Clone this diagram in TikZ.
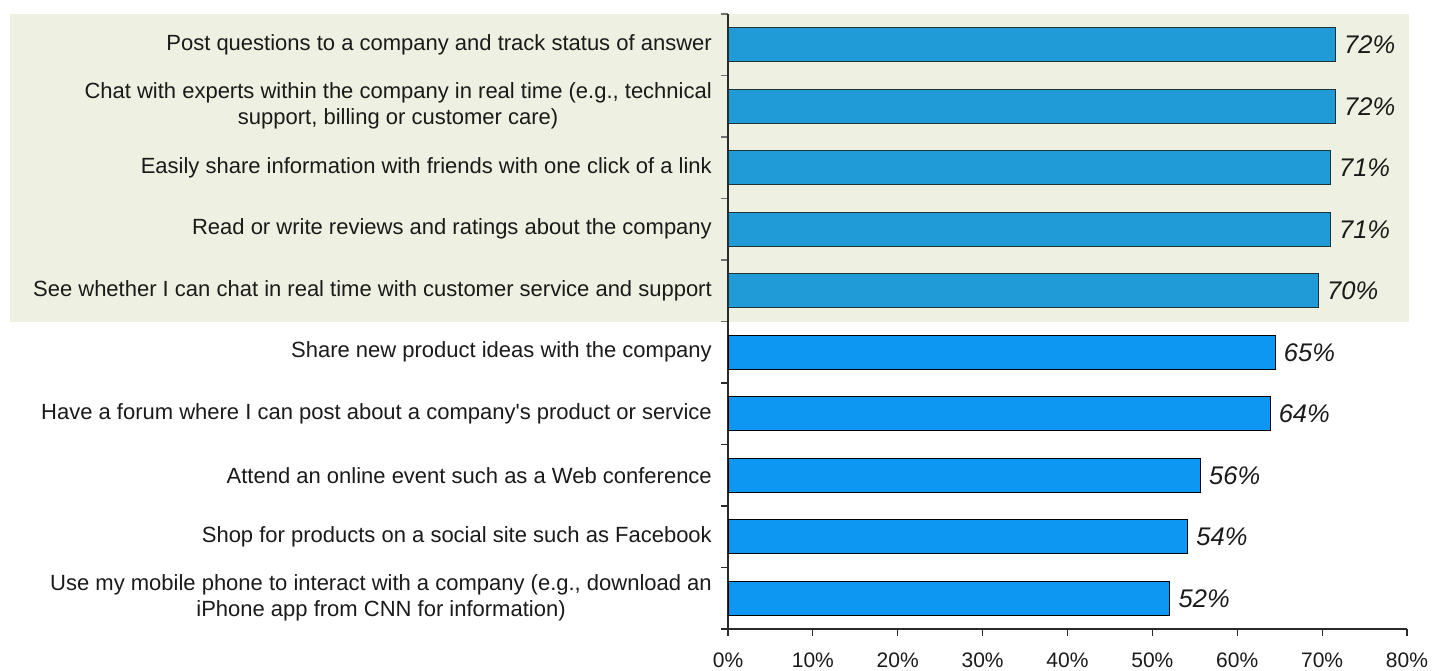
\documentclass[tikz,border=0pt]{standalone}
\usepackage{fontspec}
\setmainfont{Liberation Sans}[Ligatures=TeXOff]
\definecolor{panelc}{HTML}{EEF1E1}
\definecolor{topbar}{HTML}{219BD8}
\definecolor{lowbar}{HTML}{0E97F2}
\definecolor{topedge}{HTML}{1E3336}
\definecolor{txt}{HTML}{1A1A1A}
\definecolor{axisc}{HTML}{2A2A2A}
\definecolor{tickc}{HTML}{707070}
\begin{document}
\begin{tikzpicture}[x=1pt,y=-1pt,
  lbl/.style={anchor=east, inner sep=0pt, align=center, text=txt, font=\fontsize{22}{26}\selectfont},
  barbase/.style={anchor=west, inner sep=0pt, minimum height=34pt, line width=1.1pt},
  bartop/.style={barbase, fill=topbar, draw=topedge},
  barlow/.style={barbase, fill=lowbar, draw=black},
  pct/.style={anchor=west, inner sep=0pt, text=txt, font=\fontsize{25.5}{28}\selectfont\itshape},
  axlbl/.style={anchor=base, inner sep=0pt, text=txt, font=\fontsize{21}{24}\selectfont},
  axisline/.style={draw=axisc, line width=1.1pt},
  tickline/.style={draw=tickc, line width=1.1pt}]
\useasboundingbox (0,0) rectangle (1433,671);
\fill[panelc] (10,14) rectangle (1409,322);
% row ticks on the value axis
\foreach \i in {0,...,10} {
  \pgfmathsetmacro{\ty}{14+61.5*\i}
  \ifnum\i<6 \draw[tickline] (721,\ty) -- (728,\ty); \else \draw[axisline] (721,\ty) -- (728,\ty); \fi
}
% axes
\coordinate (otop) at (728,14);
\coordinate (orig) at (728,629);
\coordinate (xend) at (1407,629);
\draw[axisline] (otop) -- (orig) -- (xend);
\foreach \k in {0,...,8} {
  \pgfmathsetmacro{\tx}{728+84.875*\k}
  \coordinate (xt\k) at (\tx,629);
  \draw[axisline] (xt\k) -- ++(0,7);
  \pgfmathtruncatemacro{\pv}{10*\k}
  \node[axlbl] (xl\k) at (\tx,667) {\pv\%};
}
% bars
\foreach \i/\v/\s/\p/\t in {
  1/71.5/bartop/72/{Post questions to a company and track status of answer},
  2/71.5/bartop/72/{Chat with experts within the company in real time (e.g., technical\\support, billing or customer care)},
  3/70.9/bartop/71/{Easily share information with friends with one click of a link},
  4/70.9/bartop/71/{Read or write reviews and ratings about the company},
  5/69.5/bartop/70/{See whether I can chat in real time with customer service and support},
  6/64.4/barlow/65/{Share new product ideas with the company},
  7/63.8/barlow/64/{Have a forum where I can post about a company's product or service},
  8/55.6/barlow/56/{Attend an online event such as a Web conference},
  9/54.1/barlow/54/{Shop for products on a social site such as Facebook},
  10/52.0/barlow/52/{Use my mobile phone to interact with a company (e.g., download an\\iPhone app from CNN for information)}} {
  \pgfmathsetmacro{\cy}{14+61.5*(\i-0.5)}
  \pgfmathsetmacro{\bw}{\v*8.4875}
  \node[\s, minimum width=\bw pt] (bar\i) at (728,\cy) {};
  \node[pct] (pct\i) at ([xshift=8pt]bar\i.east) {\p\%};
  \node[lbl] (lab\i) at (712,\cy) {\t};
}
\end{tikzpicture}
\end{document}
